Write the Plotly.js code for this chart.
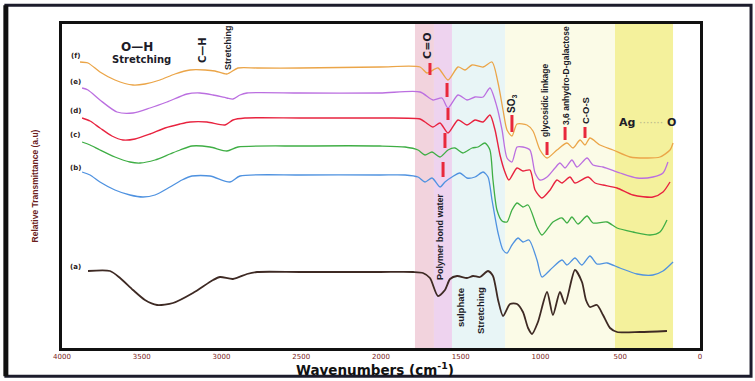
<!DOCTYPE html>
<html>
<head>
<meta charset="utf-8">
<script src="https://cdn.plot.ly/plotly-3.0.1.min.js"></script>
<style>html,body{margin:0;padding:0;background:#fff;}#chart{width:755px;height:381px;}</style>
</head>
<body>
<div id="chart"></div>
<script>
// ---- Data (wavenumber in cm^-1, relative transmittance in a.u.) ----
const seriesLabels = ["(a)", "(b)", "(c)", "(d)", "(e)", "(f)"];

const fWn = [3887,3837,3762,3668,3555,3480,3386,3292,3197,3103,3041,2966,2897,2777,2508,2006,1755,1712,1643,1580,1517,1473,1429,1360,1304,1266,1235,1210,1179,1147,1085,1047,1003,959,897,834,796,752,721,690,627,545,439,332,251,188,169];
const fT  = [286,285,276,268,263,264,268,274,278,278,277,274,280,280,280,281,281,275,280,268,281,278,283,281,286,265,238,218,212,224,223,217,198,190,198,205,200,208,203,210,203,198,191,190,191,198,205];

const eWn = [3874,3837,3762,3655,3555,3448,3342,3216,3135,3053,2966,2928,2884,2840,2508,2006,1755,1674,1618,1580,1517,1461,1411,1360,1317,1273,1241,1210,1179,1147,1110,1066,1034,1003,959,909,878,846,803,771,708,671,608,502,395,295,232,201];
const eT  = [260,258,248,236,235,240,246,254,255,253,250,249,253,255,255,255,256,248,250,240,253,248,251,251,260,241,218,190,186,201,201,198,175,168,171,180,185,180,188,181,190,183,181,175,170,171,175,186];

const dWn = [3874,3824,3762,3687,3618,3542,3448,3354,3260,3197,3091,2978,2928,2853,2508,2006,1755,1724,1674,1630,1580,1517,1461,1411,1360,1317,1285,1254,1223,1198,1147,1110,1066,1034,991,940,897,865,815,784,702,658,608,520,420,295,232,188];
const dT  = [230,227,220,212,208,209,214,220,224,226,226,223,228,230,230,230,229,226,221,225,215,228,223,228,226,233,218,193,176,168,180,177,178,158,150,158,168,165,171,165,171,165,163,160,153,151,156,166];

const cWn = [3874,3824,3762,3668,3574,3511,3417,3323,3260,3185,3072,2966,2897,2508,2006,1849,1768,1724,1680,1630,1580,1536,1486,1429,1392,1348,1317,1298,1273,1241,1210,1179,1147,1110,1078,1022,991,922,865,834,803,765,708,671,583,520,420,313,251,207];
const cT  = [206,203,198,191,186,185,188,194,198,202,201,197,201,202,202,201,198,193,196,191,198,200,195,200,201,205,198,168,138,127,126,138,145,141,143,121,113,126,130,125,131,124,132,125,126,120,116,113,116,128];

const bWn = [3874,3824,3762,3668,3574,3492,3417,3323,3248,3185,3072,2947,2884,2508,2006,1849,1768,1724,1680,1630,1599,1555,1505,1461,1411,1360,1329,1304,1266,1235,1210,1179,1141,1110,1072,1022,991,940,865,834,784,740,690,646,583,502,395,295,232,169];
const bT  = [176,173,166,158,153,151,153,161,168,172,172,166,172,173,173,173,171,166,170,161,166,171,175,170,171,176,171,148,115,98,95,103,110,106,108,88,71,78,88,83,90,83,92,84,85,80,74,73,77,86];

const aWn = [3837,3699,3636,3555,3480,3404,3304,3179,3053,3009,2928,2840,2777,2508,2006,1799,1737,1693,1643,1599,1567,1523,1461,1423,1379,1329,1298,1266,1235,1191,1147,1110,1078,1053,1016,959,922,878,846,784,740,715,690,646,608,564,520,376,207];
const aT  = [77,77,70,58,48,43,45,55,68,71,69,74,76,76,76,76,75,70,52,58,69,72,70,72,71,77,72,48,32,44,44,36,20,14,26,56,33,56,44,78,66,48,41,43,33,20,16,16,17];

// band assignment markers (red ticks)
const markerWn     = [1693, 1586, 1580, 1599, 1611, 1179, 959, 846, 721];
const markerTop    = [285, 265, 240, 215, 186, 233, 206, 221, 221];
const markerBottom = [273, 251, 228, 200, 171, 216, 193, 208, 210];

// highlighted spectral regions
const regionStart = [1787, 1668, 1555, 1222, 533];
const regionEnd   = [1668, 1555, 1222, 533, 169];

const xTicks = [4000, 3500, 3000, 2500, 2000, 1500, 1000, 500, 0];

// ---- Styles ----
const lineColors = {a:"#3e2a24", b:"#4f92e0", c:"#3fae45", d:"#e8233f", e:"#bb6fe0", f:"#eba548"};
const regionColors = ["#f2d3dd", "#eed3ef", "#e8f5f6", "#fbfbe7", "#f4f19c"];
const narrow = "Liberation Sans, Arial, sans-serif";

function mk(x, y, col, w) {
  return {x: x, y: y, type: "scatter", mode: "lines", hoverinfo: "skip",
          line: {color: col, width: w, shape: "spline", smoothing: 0.7}, showlegend: false};
}

const traces = [
  mk(fWn, fT, lineColors.f, 1.3),
  mk(eWn, eT, lineColors.e, 1.3),
  mk(dWn, dT, lineColors.d, 1.4),
  mk(cWn, cT, lineColors.c, 1.3),
  mk(bWn, bT, lineColors.b, 1.3),
  mk(aWn, aT, lineColors.a, 1.8)
];

// red tick markers as segments
const mx = [], my = [];
markerWn.forEach((w, i) => { mx.push(w, w, null); my.push(markerBottom[i], markerTop[i], null); });
traces.push({x: mx, y: my, type: "scatter", mode: "lines", hoverinfo: "skip",
             line: {color: "#e8283c", width: 3}, showlegend: false});

const shapes = regionStart.map((s, i) => ({
  type: "rect", xref: "x", yref: "paper", x0: s, x1: regionEnd[i], y0: 0, y1: 1,
  fillcolor: regionColors[i], line: {width: 0}, layer: "below"
}));
// outer picture frame
shapes.push({type: "rect", xref: "paper", yref: "paper", x0: -0.088, x1: 1.08, y0: -0.087, y1: 1.058,
             line: {color: "#1c1c2c", width: 3}, fillcolor: "rgba(0,0,0,0)", layer: "above"});
shapes.push({type: "line", xref: "paper", yref: "paper", x0: -0.088, x1: -0.088, y0: -0.087, y1: 1.058,
             line: {color: "#111", width: 5}, layer: "above"});

const labelYs = [81, 180, 213, 237, 266, 292];
const annotations = seriesLabels.map((t, i) => ({
  x: 3918, y: labelYs[i], xref: "x", yref: "y", text: "<b>" + t + "</b>", showarrow: false,
  font: {family: "DejaVu Sans", size: 7, color: "#2a2020"}
}));

function ann(text, x, y, size, angle, fam) {
  return {x: x, y: y, xref: "x", yref: "y", text: text, showarrow: false, textangle: angle || 0,
          font: {family: fam || narrow, size: size, color: "#1c1c28"}};
}
annotations.push(
  ann("<b>O—H</b>", 3530, 301, 12, 0, "DejaVu Sans"),
  ann("<b>Stretching</b>", 3500, 289, 10, 0, "DejaVu Sans"),
  ann("<b>C—H</b>", 3122, 298, 10, -90, "DejaVu Sans"),
  ann("<b>Stretching</b>", 2959, 300, 9, -90),
  ann("<b>C=O</b>", 1712, 303, 11, -90, "DejaVu Sans"),
  ann("<b>SO<sub>3</sub></b>", 1179, 244, 10, -90),
  ann("<b>glycosidic linkage</b>", 972, 248, 8.5, -90),
  ann("<b>3,6 anhydro-D-galactose</b>", 840, 272, 8.5, -90),
  ann("<b>C-O-S</b>", 721, 237, 9.5, -90),
  ann("<b>Ag</b> <span style='color:#b9b98c'>·······</span> <b>O</b>", 330, 226, 11, 0, "DejaVu Sans"),
  ann("<b>Polymer bond water</b>", 1630, 111, 9, -90),
  ann("<b>sulphate</b>", 1504, 40, 9.5, -90),
  ann("<b>Stretching</b>", 1379, 37, 9.5, -90),
  {x: 0.49, y: -0.064, xref: "paper", yref: "paper", xanchor: "center", yanchor: "middle",
   text: "<b>Wavenumbers (cm<sup>-1</sup>)</b>",
   showarrow: false, font: {family: "DejaVu Sans", size: 13.5, color: "#111"}}
);

const layout = {
  width: 755, height: 381,
  margin: {l: 62, r: 55, t: 24, b: 33},
  paper_bgcolor: "#ffffff", plot_bgcolor: "#ffffff",
  showlegend: false,
  xaxis: {
    range: [4000, 0], tickvals: xTicks, ticktext: xTicks.map(String),
    showgrid: false, zeroline: false, ticks: "", showline: true, mirror: true,
    linecolor: "#111", linewidth: 3,
    tickfont: {family: "DejaVu Sans", size: 7, color: "#7a2222"}
  },
  yaxis: {
    range: [0, 324], showticklabels: false, showgrid: false, zeroline: false, ticks: "",
    showline: true, mirror: true, linecolor: "#111", linewidth: 3,
    title: {text: "<b>Relative Transmittance (a.u)</b>", standoff: 20,
            font: {family: narrow, size: 8.5, color: "#6b1d1d"}}
  },
  shapes: shapes,
  annotations: annotations
};

Plotly.newPlot("chart", traces, layout, {displayModeBar: false, staticPlot: true});
</script>
</body>
</html>
